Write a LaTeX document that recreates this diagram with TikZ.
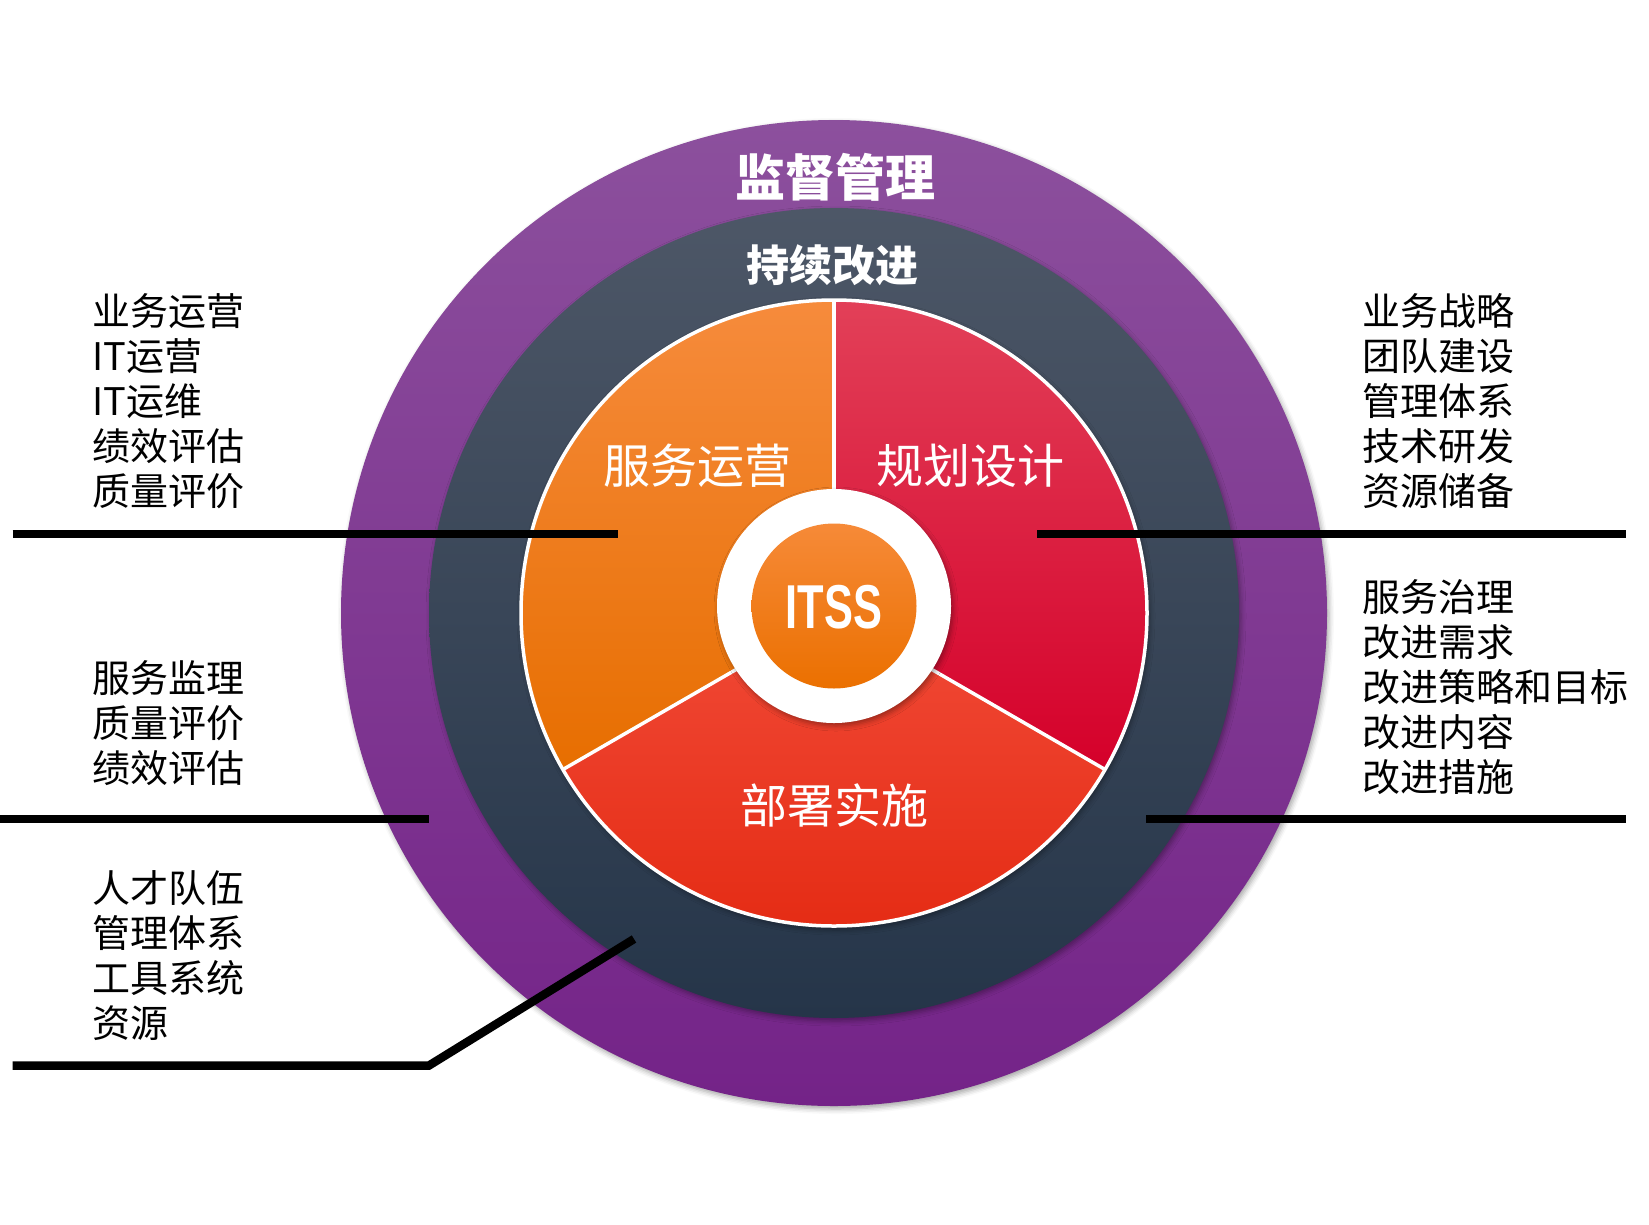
\documentclass[tikz,border=0pt]{standalone}
\usepackage{fontspec}
\setmainfont{Noto Sans CJK SC}
\newfontfamily\latinb{Liberation Sans}
\usetikzlibrary{shadows.blur}
\definecolor{purpTop}{RGB}{140,80,157}
\definecolor{purpBot}{RGB}{116,35,136}
\definecolor{darkTop}{RGB}{77,87,103}
\definecolor{darkBot}{RGB}{37,53,73}
\definecolor{orTop}{RGB}{246,139,60}
\definecolor{orBot}{RGB}{231,110,0}
\definecolor{rdTop}{RGB}{226,64,88}
\definecolor{rdBot}{RGB}{213,0,42}
\definecolor{btTop}{RGB}{241,74,55}
\definecolor{btBot}{RGB}{227,40,16}
\definecolor{itTop}{RGB}{246,138,56}
\definecolor{itBot}{RGB}{235,112,0}
\tikzset{
  softshadow/.style={blur shadow={shadow xshift=2pt, shadow yshift=-3pt, shadow blur radius=5pt, shadow opacity=35}},
  ringtitle/.style={text=white, inner sep=0pt, font=\bfseries\fontsize{#1}{#1}\selectfont},
  sectorlabel/.style={text=white, inner sep=0pt, font=\fontsize{47}{47}\selectfont},
  listtext/.style={text=black, inner sep=0pt, anchor=base west, align=left, font=\fontsize{38}{45}\selectfont},
  leader/.style={line width=8.5pt, black},
  divider/.style={line width=3.5pt, white}
}
\begin{document}
\begin{tikzpicture}[x=1pt,y=-1pt]
\useasboundingbox (0,0) rectangle (1649,1224);
\coordinate (C) at (834,613);
\coordinate (W) at (834,606);
% rings
\path[top color=purpTop, bottom color=purpBot, softshadow] (C) circle[radius=493pt];
\path[top color=darkTop, bottom color=darkBot, softshadow] (C) circle[radius=405pt];
% pie
\path[fill=white, softshadow] (C) circle[radius=314pt];
\path[top color=orTop, bottom color=orBot] (C) -- ++(90:313pt) arc[start angle=90, end angle=210, radius=313pt] -- cycle;
\path[top color=btTop, bottom color=btBot] (C) -- ++(210:313pt) arc[start angle=210, end angle=330, radius=313pt] -- cycle;
\path[top color=rdTop, bottom color=rdBot] (C) -- ++(-30:313pt) arc[start angle=-30, end angle=90, radius=313pt] -- cycle;
\draw[divider] (C) circle[radius=313pt];
\draw[divider] (C) -- ++(90:313pt);
\draw[divider] (C) -- ++(210:313pt);
\draw[divider] (C) -- ++(-30:313pt);
% centre
\path[fill=white, softshadow] (W) circle[radius=117pt];
\path[top color=itTop, bottom color=itBot] (W) circle[radius=82.5pt];
\node[text=white, inner sep=0pt, font=\latinb\bfseries\fontsize{62}{62}\selectfont] (itss) at (834,607) {\scalebox{0.7}[1]{ITSS}};
% ring titles
\node[ringtitle=50] (t1) at (835,177) {监督管理};
\node[ringtitle=43] (t2) at (832,265) {持续改进};
% sector labels
\node[sectorlabel] (s1) at (697,466) {服务运营};
\node[sectorlabel] (s2) at (970,466) {规划设计};
\node[sectorlabel] (s3) at (834,805) {部署实施};
% lists (anchored at the baseline of the last line)
\node[listtext] (la) at (92,505) {业务运营\\IT运营\\IT运维\\绩效评估\\质量评价};
\node[listtext] (lb) at (92,782) {服务监理\\质量评价\\绩效评估};
\node[listtext] (lc) at (92,1037) {人才队伍\\管理体系\\工具系统\\资源};
\node[listtext] (ra) at (1362,505) {业务战略\\团队建设\\管理体系\\技术研发\\资源储备};
\node[listtext] (rb) at (1362,791) {服务治理\\改进需求\\改进策略和目标\\改进内容\\改进措施};
% leader lines
\coordinate (L1a) at (12.6,534); \coordinate (L1b) at (618,534);
\coordinate (L2a) at (0,819); \coordinate (L2b) at (429,819);
\coordinate (L3a) at (12.6,1065.5); \coordinate (L3b) at (429,1065.5); \coordinate (L3c) at (634,939);
\coordinate (R1a) at (1037,534); \coordinate (R1b) at (1626,534);
\coordinate (R2a) at (1146,819); \coordinate (R2b) at (1626,819);
\draw[leader] (L1a) -- (L1b);
\draw[leader] (L2a) -- (L2b);
\draw[leader] (L3a) -- (L3b) -- (L3c);
\draw[leader] (R1a) -- (R1b);
\draw[leader] (R2a) -- (R2b);
\end{tikzpicture}
\end{document}
